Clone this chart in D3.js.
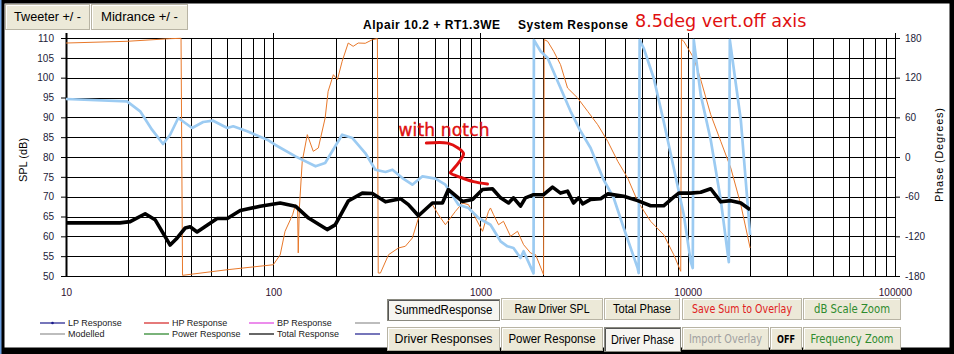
<!DOCTYPE html>
<html>
<head>
<meta charset="utf-8">
<script src="https://d3js.org/d3.v7.min.js"></script>
<style>
  body { margin: 0; background: #000; }
  text { font-family: "Liberation Sans", Arial, sans-serif; }
</style>
</head>
<body>
<div id="my_dataviz"></div>
<script>

// total response (dB)
var freqTotal = [10, 18.2, 20.4, 24.1, 26.9, 31.8, 34.4, 37.6, 39.7, 42.9, 53.6, 60, 69.3, 86.5, 108, 128, 148, 182, 199, 230, 269, 301, 348, 411, 449, 502, 586, 655, 700, 818, 915, 1023, 1142, 1250, 1366, 1443, 1560, 1648, 1803, 2015, 2226, 2433, 2630, 2812, 2973, 3110, 3399, 3800, 4110, 4910, 5730, 6620, 7650, 8470, 9050, 10330, 11550, 12910, 14430, 16130, 18030, 20000];
var splTotal = [63.4, 63.4, 63.7, 65.7, 64.2, 57.8, 59.6, 62.1, 62.4, 61.1, 64.5, 64.5, 66.5, 67.6, 68.4, 67.6, 64.6, 61.7, 62.9, 68.9, 70.9, 70.8, 68.7, 69.5, 68.0, 65.2, 68.4, 68.4, 71.8, 68.8, 69.3, 71.8, 72.0, 69.7, 68.4, 69.7, 67.6, 69.7, 70.5, 70.5, 72.4, 70.9, 71.4, 68.4, 69.7, 68.2, 69.3, 69.5, 70.7, 70.1, 69.0, 67.7, 67.7, 69.7, 70.9, 70.9, 71.1, 72.0, 68.7, 69.0, 68.4, 66.7];

// total phase (degrees) - light blue
var freqPhase = [10, 19.7, 22.8, 26.0, 29.4, 31.8, 34.8, 37.6, 40.6, 45.9, 51.3, 60, 64.1, 74.9, 93.5, 102, 128, 160, 178, 215, 241, 278, 311, 348, 376, 420, 469, 525, 606, 677, 783, 875, 978, 1117, 1250, 1349, 1443, 1560, 1614, 1803, 1810, 1950, 2108, 2356, 2721, 3043, 3399, 3926, 4393, 4910, 5730, 5795, 5860, 6125, 6850, 7650, 8560, 9570, 10330, 10570, 10690, 11550, 12910, 14430, 15780, 15960, 18030, 20000];
var phaseTotal = [87.7, 84.2, 69.1, 41.3, 19.7, 33.7, 59, 51.4, 43.9, 52.9, 54.9, 43.9, 46.4, 38.9, 26.2, 18.6, 1.0, -14.1, -9.1, 33.7, 28.7, 6, -19.2, -22.7, -19.2, -31.8, -41.9, -29.2, -32.8, -41.9, -72.1, -77.1, -92.3, -102.4, -127.5, -135.1, -137.6, -152.8, -142.6, -176, 177, 159.9, 149.7, 114.5, 69.1, 38.9, 13.6, -34.3, -62, -107.4, -167.9, -175.5, 177, 164.9, 119.5, 54, -16.6, -87.3, -157.8, -168, 177, 94, 25.7, -65, -159, 177, 56, -118];

// driver phase (degrees) - orange
var freqDriver = [10, 19.7, 31.8, 35.9, 36.5, 60, 100, 108, 114, 124, 128, 131, 132, 133.5, 138, 146, 156, 165, 178, 184, 195, 204, 215, 230, 243, 257, 278, 301, 318, 321, 329, 360, 402, 434, 469, 502, 542, 586, 627, 677, 757, 818, 875, 946, 1023, 1057, 1093, 1117, 1156, 1222, 1291, 1396, 1509, 1614, 1745, 1845, 2015, 2030, 2108, 2254, 2433, 2630, 2943, 3289, 3676, 4110, 4594, 5130, 5730, 6620, 7650, 8560, 9250, 9330, 9570, 10690, 11550, 12910, 14430, 16130, 18030, 20000];
var phaseDriver = [172.4, 175, 179, 179.5, -179, -170.5, -163, -148, -112.4, -87.3, -72.1, -77.1, -145, -80, -6.5, 33.8, 8.6, 13.6, 59, 99.4, 124.5, 117, 144.7, 172.4, 167.4, 172.4, 172, 177.5, 179, -175.5, -175.5, -147.8, -137.6, -135, -122.5, -92.3, -77.1, -72.1, -87.3, -102.4, -82.2, -69.6, -72.1, -92.3, -112.4, -97.3, -82.2, -77.1, -87.3, -102.4, -97.3, -120, -112.4, -132.6, -145.2, -147.8, -178, 177.5, 175, 159.9, 139.7, 104.4, 89.2, 69.1, 48.9, 23.7, -6.5, -31.8, -67, -97.3, -117.5, -147.8, -172.9, 178, 175, 149.7, 117, 64, 23.7, -16.6, -72.1, -137.6];

// hand drawn "with notch" pointer (freq, dB)
var notchFreq = [548, 693, 783, 828, 800, 732, 716, 800, 925, 1081];
var notchSpl = [83.5, 83.5, 82.2, 80.9, 79.2, 76.7, 76.0, 74.9, 73.8, 73.2];

// ticks
var splTicks = [50, 55, 60, 65, 70, 75, 80, 85, 90, 95, 100, 105, 110];
var phaseTicks = [-180, -120, -60, 0, 60, 120, 180];
var freqLabels = [10, 100, 1000, 10000, 100000];

// legend entries
var legendNames = ['LP Response', 'HP Response', 'BP Response', '', 'Modelled', 'Power Response', 'Total Response', ''];
var legendColors = ['#1a1a8c', '#d42020', '#e040e0', '#909090', '#909090', '#208020', '#000000', '#1a1a8c'];

var width = 954, height = 354;

var svg = d3.select("#my_dataviz")
  .append("svg")
    .attr("width", width)
    .attr("height", height)
    .style("display", "block");

// window frame
svg.append("rect").attr("width", width).attr("height", height).attr("fill", "#000");
svg.append("rect").attr("x", 4.5).attr("y", 3.5).attr("width", 945).attr("height", 344).attr("fill", "#fff");
svg.append("rect").attr("x", 0).attr("y", 0).attr("width", 1.5).attr("height", height).attr("fill", "#6a9ee0");

// scales
var x = d3.scaleLog().domain([10, 100000]).range([66, 895]);
var y = d3.scaleLinear().domain([50, 110]).range([276, 38]);
var yPhase = d3.scaleLinear().domain([-180, 180]).range([276, 38]);

// grid
var gridFreqs = [];
[10, 100, 1000, 10000].forEach(function(d) {
  for (var k = 1; k < 10; k++) gridFreqs.push(d * k);
});
gridFreqs.push(100000);

var grid = svg.append("g").attr("stroke", "#000").attr("stroke-width", 1);
grid.selectAll(".hgrid")
  .data(splTicks)
  .enter().append("line")
    .attr("x1", x(10)).attr("x2", x(100000))
    .attr("y1", function(d) { return Math.round(y(d)) + 0.5; })
    .attr("y2", function(d) { return Math.round(y(d)) + 0.5; });
grid.selectAll(".vgrid")
  .data(gridFreqs)
  .enter().append("line")
    .attr("x1", function(d) { return Math.round(x(d)) + 0.5; })
    .attr("x2", function(d) { return Math.round(x(d)) + 0.5; })
    .attr("y1", function(d) { return freqLabels.indexOf(d) >= 0 ? y(110) - 5 : y(110); })
    .attr("y2", y(50));
// heavier left axis line
svg.append("line")
  .attr("x1", x(10) + 0.5).attr("x2", x(10) + 0.5)
  .attr("y1", y(110) - 5).attr("y2", y(50))
  .attr("stroke", "#000").attr("stroke-width", 2);

// left axis
var yAxis = svg.append("g")
  .attr("transform", "translate(" + x(10) + ",0)")
  .call(d3.axisLeft(y).tickValues(splTicks).tickSize(5).tickPadding(7));
yAxis.select(".domain").remove();
yAxis.selectAll("text").style("font-size", "10px").attr("fill", "#1c1c3a");

// right axis
var pAxis = svg.append("g")
  .attr("transform", "translate(" + x(100000) + ",0)")
  .call(d3.axisRight(yPhase).tickValues(phaseTicks).tickSize(5).tickPadding(5)
    .tickFormat(function(d) { return String(d); }));
pAxis.select(".domain").remove();
pAxis.selectAll("text").style("font-size", "10px").attr("fill", "#1c1c3a");

// bottom axis labels
var xAxis = svg.append("g")
  .attr("transform", "translate(0," + y(50) + ")")
  .call(d3.axisBottom(x).tickValues(freqLabels).tickSize(0).tickPadding(13)
    .tickFormat(d3.format("d")));
xAxis.select(".domain").remove();
xAxis.selectAll("text").style("font-size", "10px").attr("fill", "#301030");

// axis titles
svg.append("text")
  .attr("transform", "translate(27,160) rotate(-90)")
  .attr("text-anchor", "middle")
  .style("font-size", "11px")
  .text("SPL (dB)");
svg.append("text")
  .attr("transform", "translate(943,155) rotate(-90)")
  .attr("text-anchor", "middle")
  .style("font-size", "11px")
  .attr("textLength", 94)
  .text("Phase (Degrees)");

// curves
var drvLine = d3.line()
  .x(function(d) { return x(d[0]); })
  .y(function(d) { return yPhase(d[1]); });
var splLine = d3.line()
  .x(function(d) { return x(d[0]); })
  .y(function(d) { return y(d[1]); });

svg.append("path")
  .datum(d3.zip(freqDriver, phaseDriver))
  .attr("fill", "none")
  .attr("stroke", "#e8782a")
  .attr("stroke-width", 1)
  .attr("d", drvLine);

svg.append("path")
  .datum(d3.zip(freqPhase, phaseTotal))
  .attr("fill", "none")
  .attr("stroke", "#9ccbf2")
  .attr("stroke-width", 2.7)
  .attr("stroke-linejoin", "round")
  .attr("d", drvLine);

svg.append("path")
  .datum(d3.zip(freqTotal, splTotal))
  .attr("fill", "none")
  .attr("stroke", "#000")
  .attr("stroke-width", 3.6)
  .attr("stroke-linejoin", "round")
  .attr("d", splLine);

// annotation
svg.append("text")
  .attr("x", x(402)).attr("y", 136)
  .style("font-family", "DejaVu Sans")
  .style("font-size", "17px")
  .attr("textLength", 91)
  .attr("fill", "#e01010")
  .attr("stroke", "#e01010")
  .attr("stroke-width", 0.4)
  .text("with notch");
svg.append("path")
  .datum(d3.zip(notchFreq, notchSpl))
  .attr("fill", "none")
  .attr("stroke", "#e01010")
  .attr("stroke-width", 3)
  .attr("stroke-linejoin", "round")
  .attr("stroke-linecap", "round")
  .attr("d", d3.line().curve(d3.curveCatmullRom)
    .x(function(d) { return x(d[0]); })
    .y(function(d) { return y(d[1]); }));

// titles
svg.append("text")
  .attr("x", 363).attr("y", 28.5)
  .style("font-size", "12px").style("font-weight", "bold")
  .attr("textLength", 137)
  .text("Alpair 10.2 + RT1.3WE");
svg.append("text")
  .attr("x", 518).attr("y", 28.5)
  .style("font-size", "12px").style("font-weight", "bold")
  .attr("textLength", 110)
  .text("System Response");
svg.append("text")
  .attr("x", 635).attr("y", 26.5)
  .style("font-family", "DejaVu Sans")
  .style("font-size", "17.6px")
  .attr("fill", "#e01010")
  .text("8.5deg vert.off axis");

// buttons
function button(bx, by, bw, bh, label, tw, opts) {
  opts = opts || {};
  var g = svg.append("g");
  g.append("rect")
    .attr("x", bx + 0.5).attr("y", by + 0.5)
    .attr("width", bw).attr("height", bh)
    .attr("fill", opts.pressed ? "#f6f5f1" : "#ece9d8")
    .attr("stroke", opts.pressed ? "#8a8a80" : "#b8b4a4");
  g.append("path")
    .attr("d", "M" + (bx + 1.5) + "," + (by + bh) + "V" + (by + 1.5) + "H" + (bx + bw))
    .attr("fill", "none")
    .attr("stroke", opts.pressed ? "#555" : "#fff")
    .attr("stroke-width", 1);
  g.append("text")
    .attr("x", bx + bw / 2 + 0.5).attr("y", by + bh / 2 + 4.5)
    .attr("text-anchor", "middle")
    .style("font-family", opts.font || "Liberation Sans")
    .style("font-size", (opts.size || 12.5) + "px")
    .style("font-weight", opts.bold ? "bold" : "normal")
    .attr("fill", opts.color || "#000")
    .attr("textLength", tw)
    .attr("lengthAdjust", "spacingAndGlyphs")
    .text(label);
}

button(5, 4, 84, 25, "Tweeter +/ -", 67);
button(91, 4, 96, 25, "Midrance  +/ -", 77);

button(387, 299, 112, 21, "SummedResponse", 98, {pressed: true});
button(501, 298, 101, 21, "Raw Driver SPL", 75);
button(604, 298, 75, 21, "Total Phase", 58);
button(682, 298, 119, 21, "Save Sum to Overlay", 100, {color: "#e02020", font: "DejaVu Sans", size: 12});
button(803, 298, 97, 21, "dB Scale Zoom", 76, {color: "#2e8b2e", font: "DejaVu Sans", size: 12});

button(387, 327, 112, 23, "Driver Responses", 98);
button(501, 327, 101, 23, "Power Response", 87);
button(604, 327, 76, 24, "Driver Phase", 63, {pressed: true});
button(682, 327, 86, 22, "Import Overlay", 73, {color: "#a0a0a0", font: "DejaVu Sans", size: 12});
button(770, 327, 31, 22, "OFF", 18, {font: "DejaVu Sans", size: 11, bold: true});
button(803, 327, 97, 22, "Frequency Zoom", 83, {color: "#2e8b2e", font: "DejaVu Sans", size: 12});

// legend
var legend = svg.selectAll(".legend")
  .data(legendNames)
  .enter().append("g")
    .attr("transform", function(d, i) {
      return "translate(" + [40, 144, 249, 355][i % 4] + "," + (i < 4 ? 323 : 334) + ")";
    });
legend.append("line")
  .attr("x1", 0).attr("x2", 25)
  .attr("stroke", function(d, i) { return legendColors[i]; })
  .attr("stroke-width", 1.2);
legend.append("text")
  .attr("x", 28).attr("y", 3)
  .style("font-size", "9px")
  .attr("fill", "#222")
  .text(function(d) { return d; });
legend.filter(function(d, i) { return i === 0; })
  .append("circle").attr("cx", 12.5).attr("r", 1.3).attr("fill", "#1a1a8c");

</script>
</body>
</html>
